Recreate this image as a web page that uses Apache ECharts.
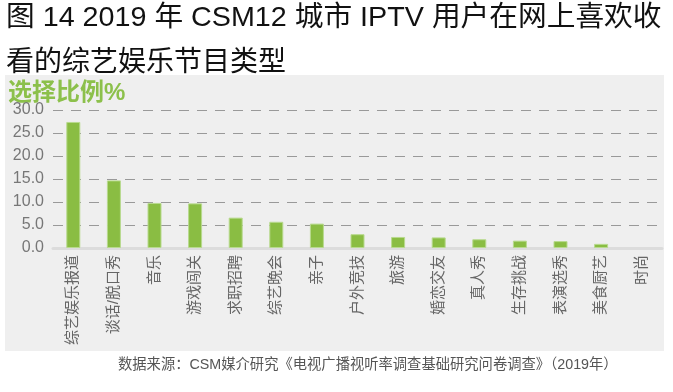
<!DOCTYPE html>
<html><head><meta charset="utf-8">
<script src="https://cdn.jsdelivr.net/npm/echarts@6/dist/echarts.min.js"></script>
<style>html,body{margin:0;padding:0;background:#fff}#c{width:673px;height:392px}</style>
</head><body><div id="c"></div>
<script>
const categories = ['综艺娱乐报道','谈话/脱口秀','音乐','游戏闯关','求职招聘','综艺晚会','亲子','户外竞技','旅游','婚恋交友','真人秀','生存挑战','表演选秀','美食厨艺','时尚'];
const values = [27.4, 14.7, 9.8, 9.7, 6.6, 5.7, 5.3, 3.0, 2.4, 2.3, 1.9, 1.6, 1.5, 0.9, 0];
const yTicks = [0, 5, 10, 15, 20, 25, 30];
const FONT = '"Liberation Sans", "Noto Sans CJK SC", sans-serif';
const chart = echarts.init(document.getElementById('c'), null, {renderer: 'canvas'});
chart.setOption({
  backgroundColor: '#ffffff',
  animation: false,
  graphic: [
    {type: 'rect', left: 5, top: 75, shape: {width: 659, height: 276}, style: {fill: '#efefef'}, z: -10},
    {type: 'text', x: 6, y: 4, scaleX: 1.025, style: {text: '图 14 2019 年 CSM12 城市 IPTV 用户在网上喜欢收', font: '28px ' + FONT, fill: '#111'}},
    {type: 'text', left: 6, top: 49, style: {text: '看的综艺娱乐节目类型', font: '28px ' + FONT, fill: '#111'}},
    {type: 'text', left: 8, top: 81, style: {text: '选择比例%', font: 'bold 24px ' + FONT, fill: '#8cc04b'}},
    {type: 'text', left: 118, top: 358, style: {text: '数据来源：CSM媒介研究《电视广播视听率调查基础研究问卷调查》（2019年）', font: '14.3px ' + FONT, fill: '#555'}}
  ],
  grid: {left: 53, right: 11, top: 110, bottom: 144, containLabel: false},
  xAxis: {
    type: 'category', data: categories,
    axisLine: {show: true, lineStyle: {color: '#dcdcdc', width: 3}},
    axisTick: {show: false},
    axisLabel: {rotate: 90, interval: 0, margin: 7, fontSize: 15, color: '#666', fontFamily: FONT}
  },
  yAxis: {
    type: 'value', min: yTicks[0], max: yTicks[yTicks.length - 1], interval: 5,
    axisLine: {show: false}, axisTick: {show: false},
    axisLabel: {margin: 9, fontSize: 16, color: '#777', fontFamily: FONT, formatter: v => v.toFixed(1)},
    splitLine: {show: true, lineStyle: {color: '#999', width: 1, type: [10, 8]}}
  },
  series: [{
    type: 'bar', barWidth: 14,
    data: values.map(v => v === 0 ? {value: v, itemStyle: {borderWidth: 0}} : v),
    itemStyle: {color: '#8abd43', borderColor: '#b8da8e', borderWidth: 1}
  }]
});
</script></body></html>
